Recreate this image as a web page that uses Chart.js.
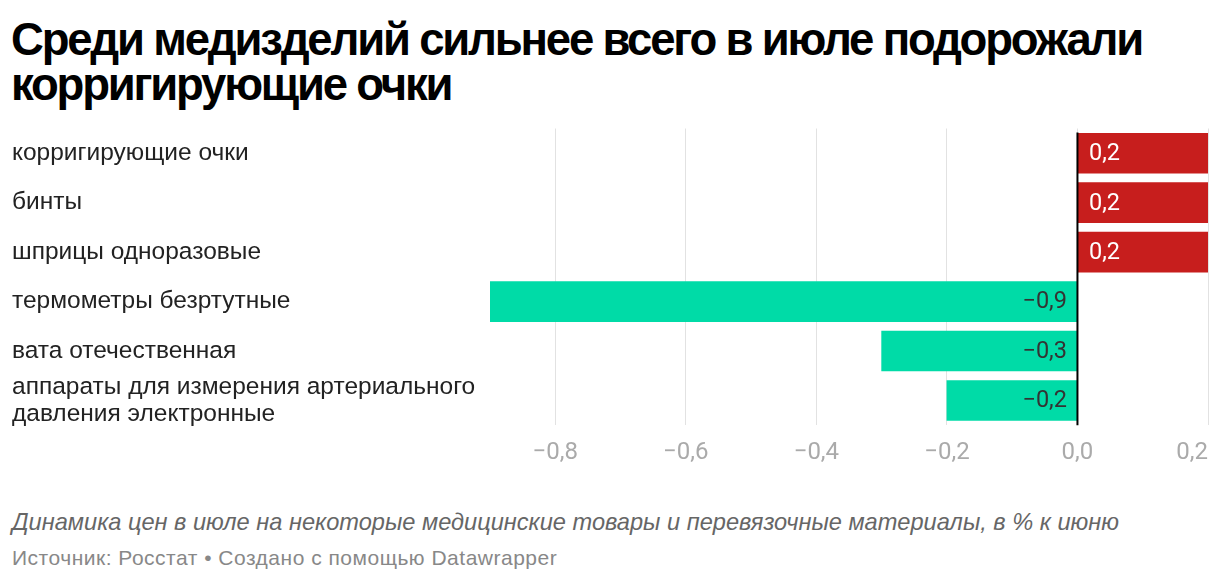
<!DOCTYPE html>
<html lang="ru">
<head>
<meta charset="utf-8">
<script src="https://cdn.jsdelivr.net/npm/chart.js@4"></script>
<style>
  html, body { margin: 0; padding: 0; background: #fff; }
  body { width: 1220px; height: 582px; position: relative; overflow: hidden; }
  #title { position: absolute; left: 11px; top: 16.5px; font-family: "Liberation Sans", Arial, sans-serif; font-weight: bold; font-size: 45.5px; line-height: 45px; letter-spacing: -2.2px; color: #000; white-space: nowrap; }
  #wrap { position: absolute; left: 0; top: 120px; width: 1220px; height: 360px; }
  #notes { position: absolute; left: 12px; top: 509px; font-family: "Liberation Sans", Arial, sans-serif; font-style: italic; font-size: 23.6px; color: #666; white-space: nowrap; }
  #source { position: absolute; left: 12px; top: 546px; font-family: "Liberation Sans", Arial, sans-serif; font-size: 21px; letter-spacing: 0.5px; color: #888; white-space: nowrap; }
</style>
</head>
<body>
<div id="title">Среди медизделий сильнее всего в июле подорожали<br>корригирующие очки</div>
<div id="wrap"><canvas id="c"></canvas></div>
<div id="notes">Динамика цен в июле на некоторые медицинские товары и перевязочные материалы, в % к июню</div>
<div id="source">Источник: Росстат • Создано с помощью Datawrapper</div>
<script>
const categories = [
  'корригирующие очки',
  'бинты',
  'шприцы одноразовые',
  'термометры безртутные',
  'вата отечественная',
  ['аппараты для измерения артериального', 'давления электронные']
];
const values = [0.2, 0.2, 0.2, -0.9, -0.3, -0.2];
const xTicks = [-0.8, -0.6, -0.4, -0.2, 0, 0.2];
const xMin = -0.9;
const xMax = 0.2;

const RED = '#c71e1d';
const GREEN = '#00dba7';

function fmt(v) {
  const s = Math.abs(v).toFixed(1).replace('.', ',');
  return (v < 0 ? '\u2212' : '') + s;
}

const labelPlugin = {
  id: 'valueLabels',
  afterDatasetsDraw(chart) {
    const ctx = chart.ctx;
    const meta = chart.getDatasetMeta(0);
    const xs = chart.scales.x;
    const zx = xs.getPixelForValue(0);
    ctx.save();
    ctx.strokeStyle = '#000';
    ctx.lineWidth = 2;
    ctx.beginPath();
    ctx.moveTo(zx, chart.chartArea.top + 4);
    ctx.lineTo(zx, chart.chartArea.bottom);
    ctx.stroke();
    ctx.font = '23.5px Roboto';
    ctx.textBaseline = 'middle';
    meta.data.forEach((bar, i) => {
      const v = values[i];
      if (v >= 0) {
        ctx.fillStyle = '#fff';
        ctx.textAlign = 'left';
        ctx.fillText(fmt(v), bar.base + 11, bar.y + 1);
      } else {
        ctx.fillStyle = '#333';
        ctx.textAlign = 'right';
        ctx.fillText(fmt(v), bar.base - 10, bar.y + 1);
      }
    });
    ctx.restore();
  }
};

new Chart(document.getElementById('c'), {
  type: 'bar',
  data: {
    labels: categories,
    datasets: [{
      data: values,
      backgroundColor: values.map(v => v >= 0 ? RED : GREEN),
      borderWidth: 0,
      barThickness: 40,
      categoryPercentage: 1,
      barPercentage: 1
    }]
  },
  options: {
    indexAxis: 'y',
    responsive: true,
    maintainAspectRatio: false,
    animation: false,
    events: [],
    layout: { padding: { left: 12, right: 12, top: 8.5, bottom: 0 } },
    plugins: { legend: { display: false }, tooltip: { enabled: false } },
    scales: {
      x: {
        type: 'linear',
        min: xMin,
        max: xMax,
        afterBuildTicks(scale) { scale.ticks = [xMin, ...xTicks].map(v => ({ value: v })); },
        afterFit(scale) { scale.paddingLeft = 0; scale.paddingRight = 0; },
        grid: {
          color: (c) => (c.tick && c.tick.value === xMin) ? 'rgba(0,0,0,0)' : '#e2e2e2',
          lineWidth: 1,
          drawTicks: false
        },
        border: { display: false },
        ticks: {
          align: 'inner',
          padding: 13,
          color: '#aaaaaa',
          font: { family: 'Roboto', size: 24 },
          callback: (v) => (v === xMin ? '' : fmt(v))
        }
      },
      y: {
        type: 'category',
        grid: { display: false },
        border: { display: false },
        afterFit(scale) { scale.width = 478; scale.paddingTop = 0; scale.paddingBottom = 0; },
        ticks: {
          autoSkip: false,
          crossAlign: 'far',
          color: '#222',
          font: { family: 'Liberation Sans', size: 24.5, lineHeight: 1.1 }
        }
      }
    }
  },
  plugins: [labelPlugin]
});
</script>
</body>
</html>
